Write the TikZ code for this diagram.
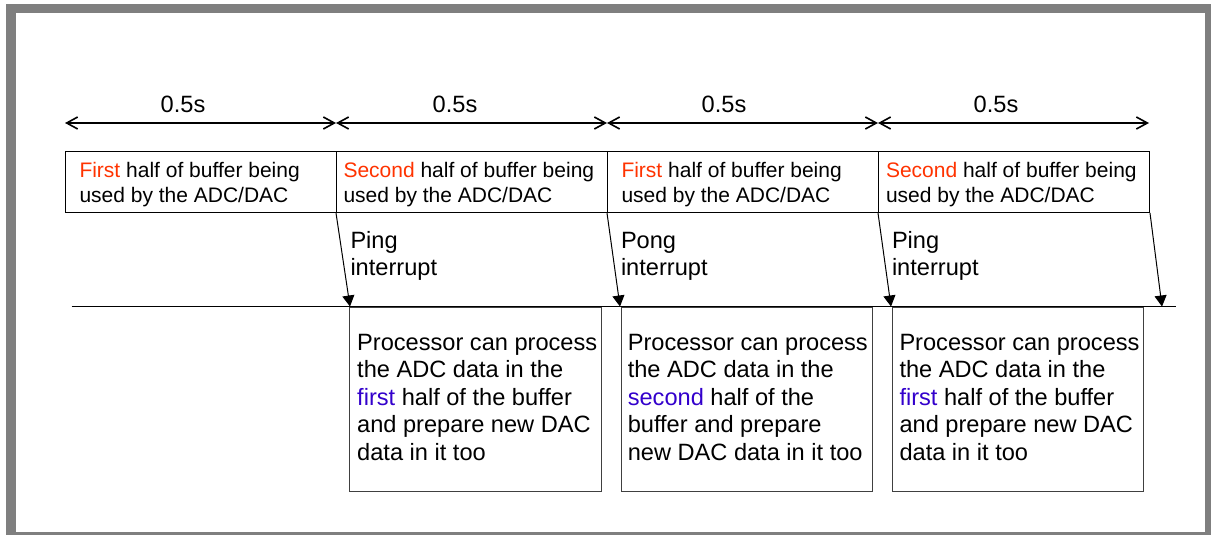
\documentclass[tikz,border=0pt]{standalone}
\usepackage{fontspec}
\setmainfont{Liberation Sans}
\usetikzlibrary{arrows.meta}
\definecolor{hred}{HTML}{FF3300}
\definecolor{hblue}{HTML}{3300CC}
\definecolor{framegray}{HTML}{7F7F7F}
\definecolor{boxgray}{HTML}{404040}
\begin{document}
\begin{tikzpicture}[x=1pt,y=-1pt,line width=1pt,
  tbox/.style={draw=black, rectangle, inner sep=0pt, anchor=north west, minimum height=61.5pt},
  bbox/.style={draw=boxgray, rectangle, inner sep=0pt, anchor=north west, minimum height=184pt},
  ttext/.style={anchor=north west, inner sep=0pt, align=left, font=\fontsize{21}{25}\selectfont},
  ltext/.style={anchor=north west, inner sep=0pt, align=left, font=\fontsize{23.6}{27.4}\selectfont},
  dlabel/.style={anchor=base, inner sep=0pt, font=\fontsize{23.6}{27.4}\selectfont},
  span/.style={line width=1.2pt, {Straight Barb[length=11pt,width=12pt,line width=1.6pt]}-{Straight Barb[length=11pt,width=12pt,line width=1.6pt]}},
  irq/.style={-{Triangle[length=11pt,width=12pt]}}]
\useasboundingbox (0,0) rectangle (1211,535);
% frame
\fill[framegray] (6,4) rectangle (1211,535);
\fill[white] (16,13) rectangle (1205,532);
% top boxes
\node[tbox, minimum width=271pt] (b1) at (65,150.5) {};
\node[tbox, minimum width=271pt] (b2) at (336,150.5) {};
\node[tbox, minimum width=271pt] (b3) at (607,150.5) {};
\node[tbox, minimum width=271pt] (b4) at (878,150.5) {};
\node[ttext] (tb1) at (79,159.5) {\strut\textcolor{hred}{First} half of buffer being\\used by the ADC/DAC};
\node[ttext] (tb2) at (343,159.5) {\strut\textcolor{hred}{Second} half of buffer being\\used by the ADC/DAC};
\node[ttext] (tb3) at (621,159.5) {\strut\textcolor{hred}{First} half of buffer being\\used by the ADC/DAC};
\node[ttext] (tb4) at (885.5,159.5) {\strut\textcolor{hred}{Second} half of buffer being\\used by the ADC/DAC};
% time spans
\coordinate (s0) at (65,123);
\coordinate (s1) at (336,123);
\coordinate (s2) at (607,123);
\coordinate (s3) at (878,123);
\coordinate (s4) at (1149,123);
\draw[span] (s0) -- (s1);
\draw[span] (s1) -- (s2);
\draw[span] (s2) -- (s3);
\draw[span] (s3) -- (s4);
\node[dlabel] (d1) at (183,112) {0.5s};
\node[dlabel] (d2) at (455,112) {0.5s};
\node[dlabel] (d3) at (724,112) {0.5s};
\node[dlabel] (d4) at (996,112) {0.5s};
% time line
\coordinate (l0) at (71.7,306.5);
\coordinate (l1) at (1176,306.5);
\draw (l0) -- (l1);
% processor boxes
\node[bbox, minimum width=251.7pt] (p1) at (349.3,306.5) {};
\node[bbox, minimum width=251pt] (p2) at (620.7,306.5) {};
\node[bbox, minimum width=251.3pt] (p3) at (891.7,306.5) {};
\node[ltext] (tp1) at (356.7,330.8) {\strut Processor can process\\the ADC data in the\\\textcolor{hblue}{first} half of the buffer\\and prepare new DAC\\data in it too};
\node[ltext] (tp2) at (627.3,330.8) {\strut Processor can process\\the ADC data in the\\\textcolor{hblue}{second} half of the\\buffer and prepare\\new DAC data in it too};
\node[ltext] (tp3) at (899,330.8) {\strut Processor can process\\the ADC data in the\\\textcolor{hblue}{first} half of the buffer\\and prepare new DAC\\data in it too};
% interrupts
\coordinate (i1) at (350,306.5);
\coordinate (i2) at (620,306.5);
\coordinate (i3) at (891,306.5);
\coordinate (i4) at (1162,306.5);
\draw[irq] (b2.south west) -- (i1);
\draw[irq] (b3.south west) -- (i2);
\draw[irq] (b4.south west) -- (i3);
\draw[irq] (b4.south east) -- (i4);
\node[ltext] (q1) at (350,228.9) {\strut Ping\\interrupt};
\node[ltext] (q2) at (620.5,228.9) {\strut Pong\\interrupt};
\node[ltext] (q3) at (891.5,228.9) {\strut Ping\\interrupt};
\end{tikzpicture}
\end{document}
